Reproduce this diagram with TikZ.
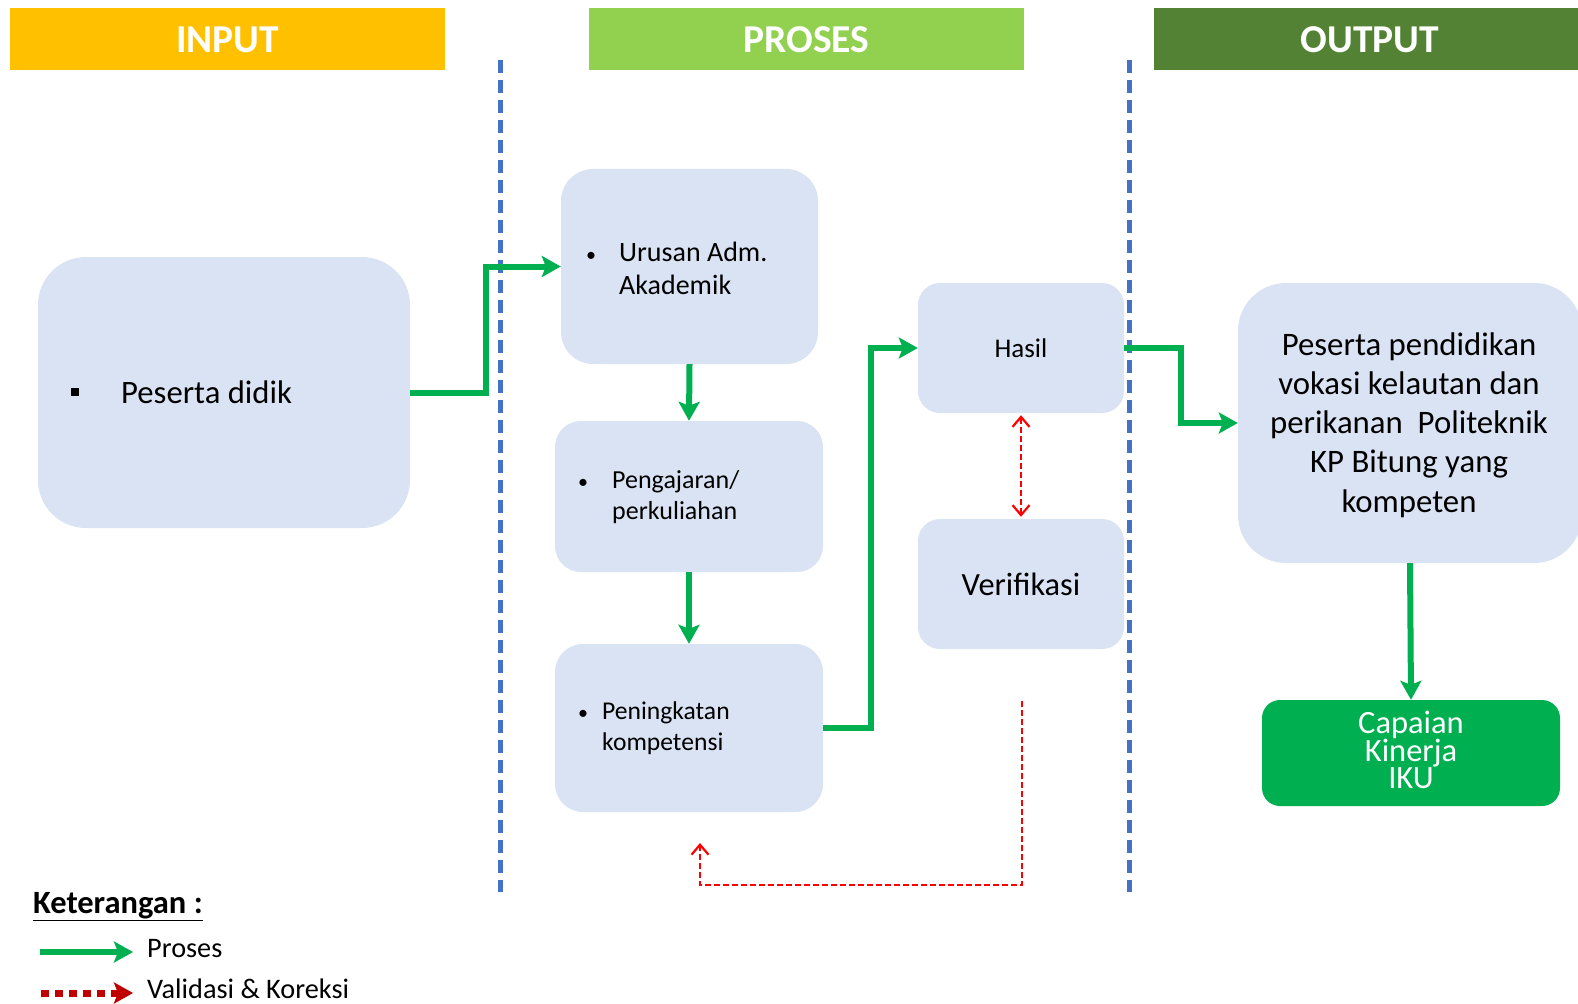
\documentclass[tikz,border=0pt]{standalone}
\usepackage{fontspec}
\setmainfont{Carlito}
\usetikzlibrary{arrows.meta}
\definecolor{boxblue}{HTML}{DAE3F3}
\definecolor{pgreen}{HTML}{00B050}
\definecolor{hdyellow}{HTML}{FFC000}
\definecolor{hdlgreen}{HTML}{92D050}
\definecolor{hddgreen}{HTML}{548235}
\definecolor{sepblue}{HTML}{4472C4}
\definecolor{vred}{HTML}{FF0000}
\definecolor{lgred}{HTML}{C00000}
\newcommand{\smbul}{{\fontsize{20}{20}\selectfont•}}
\tikzset{
  header/.style={fill=#1, text=white, inner sep=0pt, minimum height=62pt,
    font=\fontsize{39.5}{44}\selectfont\bfseries},
  bluebox/.style={fill=boxblue, inner sep=0pt, rounded corners=#1},
  bluebox/.default=30pt,
  txt/.style={inner sep=0pt, text=black},
  proc/.style={draw=pgreen, line width=6pt, -{Stealth[length=19pt,width=21pt,inset=4pt]}},
  valid/.style={draw=vred, line width=2.2pt, dash pattern=on 6pt off 3pt,
    -{Straight Barb[length=10pt,width=17pt,line width=2.2pt]}},
  sepline/.style={draw=sepblue, line width=5pt, dash pattern=on 13pt off 7pt},
}
\begin{document}
\begin{tikzpicture}[x=1pt,y=-1pt]
\clip (0,0) rectangle (1578,1003);
\fill[white] (0,0) rectangle (1578,1003);

% headers
\node[header=hdyellow, minimum width=435pt] (hin) at (227.5,39.5) {INPUT};
\node[header=hdlgreen, minimum width=435pt] (hpr) at (806.5,39.5) {PROSES};
\node[header=hddgreen, minimum width=432pt] (hout) at (1370,39.5) {OUTPUT};

% separators
\coordinate (s1t) at (500,60); \coordinate (s1b) at (500,892);
\coordinate (s2t) at (1129,60); \coordinate (s2b) at (1129,892);
\draw[sepline] (s1t) -- (s1b);
\draw[sepline] (s2t) -- (s2b);

% boxes
\node[bluebox=48pt, minimum width=372pt, minimum height=271pt] (pd) at (224,392.5) {};
\node[bluebox=32pt, minimum width=257pt, minimum height=195pt] (ur) at (689.5,266.5) {};
\node[bluebox=26pt, minimum width=268pt, minimum height=151pt] (pg) at (689,496.5) {};
\node[bluebox=28pt, minimum width=268pt, minimum height=168pt] (pk) at (689,728) {};
\node[bluebox=22pt, minimum width=206pt, minimum height=130pt] (hs) at (1021,348) {};
\node[bluebox=22pt, minimum width=206pt, minimum height=130pt] (vf) at (1021,584) {};
\node[bluebox=48pt, minimum width=344pt, minimum height=280pt] (out) at (1410,423) {};
\node[fill=pgreen, rounded corners=18pt, minimum width=298pt, minimum height=106pt, inner sep=0pt] (cap) at (1411,753) {};

% texts
\node[fill=black, minimum size=8pt, inner sep=0pt] (pdb) at (75,392) {};
\node[txt, anchor=base west, font=\fontsize{32.7}{37}\selectfont] (pdt) at (121,403) {Peserta didik};
\node[txt, anchor=west, align=left, font=\fontsize{28}{33}\selectfont] (urt) at (586,268)
  {\makebox[33pt][l]{\smbul}Urusan Adm.\\\hspace*{33pt}Akademik};
\node[txt, anchor=west, align=left, font=\fontsize{26}{31}\selectfont] (pgt) at (578,497)
  {\makebox[34pt][l]{\smbul}Pengajaran/\\\hspace*{34pt}perkuliahan};
\node[txt, anchor=west, align=left, font=\fontsize{25.6}{31}\selectfont] (pkt) at (578,728)
  {\makebox[24pt][l]{\smbul}Peningkatan\\\hspace*{24pt}kompetensi};
\node[txt, font=\fontsize{27}{33}\selectfont] (hst) at (hs.center) {Hasil};
\node[txt, font=\fontsize{32.4}{37}\selectfont] (vft) at (vf.center) {Verifikasi};
\node[txt, align=center, font=\fontsize{32.8}{39.2}\selectfont] (outt) at (1409,425)
  {Peserta pendidikan\\vokasi kelautan dan\\perikanan~~Politeknik\\KP Bitung yang\\kompeten};
\node[txt, text=white, align=center, font=\fontsize{32.5}{27}\selectfont] (capt) at (1411,750)
  {Capaian\\Kinerja\\IKU};

% process arrows
\draw[proc] (pd.east) -- ++(76,0) |- (ur.west);
\draw[proc] (ur.south) -- (pg.north);
\draw[proc] (pg.south) -- (pk.north);
\draw[proc] (pk.east) -- ++(48,0) |- (hs.west);
\draw[proc] (hs.east) -- ++(57,0) |- (out.west);
\draw[proc] (out.south) -- (cap.north);

% validation arrows
\draw[valid, {Straight Barb[length=10pt,width=17pt,line width=2.2pt]}-{Straight Barb[length=10pt,width=17pt,line width=2.2pt]}, shorten <=2pt, shorten >=2pt] (hs.south) -- (vf.north);
\coordinate (fbs) at (1022,701);
\coordinate (fbc) at (700,885);
\coordinate (fbe) at (700,843);
\draw[valid] (fbs) |- (fbc) -- (fbe);

% legend
\node[txt, anchor=base west, font=\fontsize{32.5}{36}\selectfont\bfseries] (ket) at (33,913) {\underline{Keterangan :}};
\coordinate (l1a) at (40,952); \coordinate (l1b) at (133,952);
\draw[draw=pgreen, line width=6pt, -{Stealth[length=19pt,width=21pt,inset=4pt]}] (l1a) -- (l1b);
\node[txt, anchor=base west, font=\fontsize{28.3}{33}\selectfont] (lt1) at (147,957) {Proses};
\coordinate (l2a) at (41,993); \coordinate (l2b) at (133,993);
\draw[draw=lgred, line width=7pt, dash pattern=on 8pt off 6pt, -{Stealth[length=19pt,width=21pt,inset=4pt]}] (l2a) -- (l2b);
\node[txt, anchor=base west, font=\fontsize{28.3}{33}\selectfont] (lt2) at (147,998) {Validasi \& Koreksi};
\end{tikzpicture}
\end{document}
